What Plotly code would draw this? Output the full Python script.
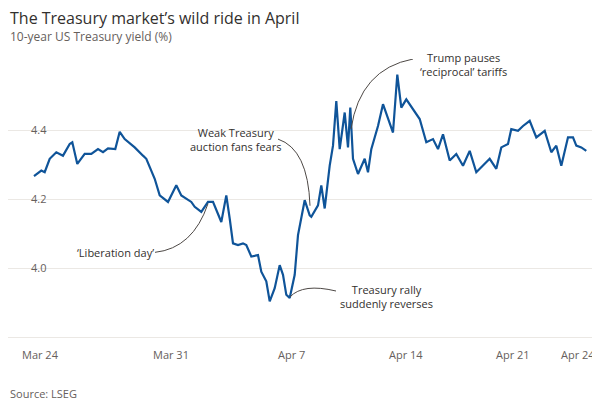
import plotly.graph_objects as go

# x positions on the trading-time axis (chart units), yields in %
x_pos = [26, 33.3, 36.7, 41.7, 48.3, 55, 61.7, 64.3, 69.3, 76.7, 83.3, 90, 95, 100, 107.3, 111.7,
         116.7, 126.7, 135, 138.3, 146.7, 151.7, 160, 168.3, 173.3, 183.3, 186.7, 193.3, 200, 205,
         213.3, 218.3, 221.7, 225, 230, 235, 238.3, 243.3, 250, 253.3, 258.3, 261.7, 266.7, 271.7,
         275, 278.3, 281.7, 286.7, 290, 296.7, 301.7, 303.3, 310, 313.3, 316.7, 321.7, 325, 328.3,
         331.7, 336.7, 340, 342.3, 345, 350, 356.7, 360, 363.3, 370, 375, 380, 385, 389.3, 393.3,
         398.3, 405, 411.7, 418.3, 425, 430, 435, 441.7, 448.3, 455, 461.7, 468.3, 475, 481.7,
         488.3, 493.3, 500, 503.3, 510, 515, 521.7, 528.3, 536.7, 543.3, 548.3, 553.3, 560, 565,
         568.3, 573.3, 578.3]
yields = [4.267, 4.283, 4.278, 4.317, 4.336, 4.326, 4.360, 4.365, 4.302, 4.331, 4.331, 4.345,
          4.336, 4.347, 4.345, 4.395, 4.374, 4.350, 4.326, 4.317, 4.259, 4.211, 4.192, 4.240,
          4.211, 4.192, 4.178, 4.163, 4.192, 4.192, 4.134, 4.211, 4.144, 4.072, 4.067, 4.072,
          4.067, 4.034, 4.038, 3.990, 3.962, 3.904, 3.942, 4.009, 3.981, 3.923, 3.914, 3.981,
          4.096, 4.197, 4.153, 4.149, 4.182, 4.240, 4.173, 4.297, 4.355, 4.484, 4.345, 4.451,
          4.350, 4.465, 4.317, 4.273, 4.317, 4.278, 4.345, 4.412, 4.475, 4.437, 4.393, 4.561,
          4.465, 4.489, 4.460, 4.432, 4.365, 4.374, 4.345, 4.388, 4.312, 4.331, 4.297, 4.340,
          4.278, 4.297, 4.317, 4.288, 4.350, 4.360, 4.403, 4.398, 4.412, 4.427, 4.379, 4.398,
          4.336, 4.355, 4.297, 4.379, 4.379, 4.355, 4.350, 4.340]
tick_pos = [32, 163, 283, 398, 505, 570]
tick_text = ["Mar 24", "Mar 31", "Apr 7", "Apr 14", "Apr 21", "Apr 24"]
y_ticks = [3.8, 4.0, 4.2, 4.4]

FONT = "Open Sans"
fig = go.Figure()
fig.add_trace(go.Scatter(x=x_pos, y=yields, mode="lines",
                         line=dict(color="#0f5499", width=2.2), hoverinfo="skip"))

fig.update_layout(
    width=600, height=400, paper_bgcolor="white", plot_bgcolor="white",
    margin=dict(l=0, r=0, t=51, b=69), showlegend=False,
    font=dict(family=FONT, color="#33302e", size=11),
    xaxis=dict(range=[0, 600], tickvals=tick_pos, showticklabels=False, showgrid=False,
               zeroline=False, showline=False, ticks=""),
    yaxis=dict(range=[3.795, 4.606], tickvals=y_ticks, ticktext=["3.8", "4.0", "4.2", "4.4"],
               showgrid=True, gridcolor="#ebe8e4", zeroline=False,
               ticklabelposition="inside", ticklabelstandoff=20,
               tickfont=dict(size=11, color="#66605c")),
)
for tp, tt in zip(tick_pos, tick_text):
    fig.add_annotation(text=tt, x=tp, yref="paper", y=-0.054, showarrow=False,
                       xanchor="center", yanchor="middle", font=dict(size=11, color="#66605c"))
fig.add_annotation(text="The Treasury market’s wild ride in April", xref="paper", yref="paper",
                   x=0.0, y=1.145, xanchor="left", yanchor="middle", showarrow=False,
                   font=dict(size=16, color="#33302e"))
fig.add_annotation(text="10-year US Treasury yield (%)", xref="paper", yref="paper",
                   x=0.0, y=1.08, xanchor="left", yanchor="middle", showarrow=False,
                   font=dict(size=12, color="#66605c"))
fig.add_annotation(text="Source: LSEG", xref="paper", yref="paper", x=0.0, y=-0.193,
                   xanchor="left", yanchor="middle", showarrow=False,
                   font=dict(size=11, color="#66605c"))
fig.add_annotation(text="Trump pauses<br>‘reciprocal’ tariffs", x=455, yref="paper", y=1.04,
                   showarrow=False, font=dict(size=11, color="#33302e"), align="center")

notes = [("Weak Treasury<br>auction fans fears", 227, 4.373),
         ("‘Liberation day’", 107, 4.046),
         ("Treasury rally<br>suddenly reverses", 378, 3.917)]
for t, x, y in notes:
    fig.add_annotation(text=t, x=x, y=y, showarrow=False, font=dict(size=11, color="#33302e"),
                       align="center")
paths = ["M 343,4.403 Q 352,4.577 405,4.606",
         "M 270,4.374 Q 300,4.345 302,4.181",
         "M 147,4.046 Q 185,4.058 200,4.187",
         "M 282,3.917 Q 295,3.957 328,3.934"]
for p in paths:
    fig.add_shape(type="path", path=p, line=dict(color="#4d4845", width=1))

fig.write_html("out.html")
